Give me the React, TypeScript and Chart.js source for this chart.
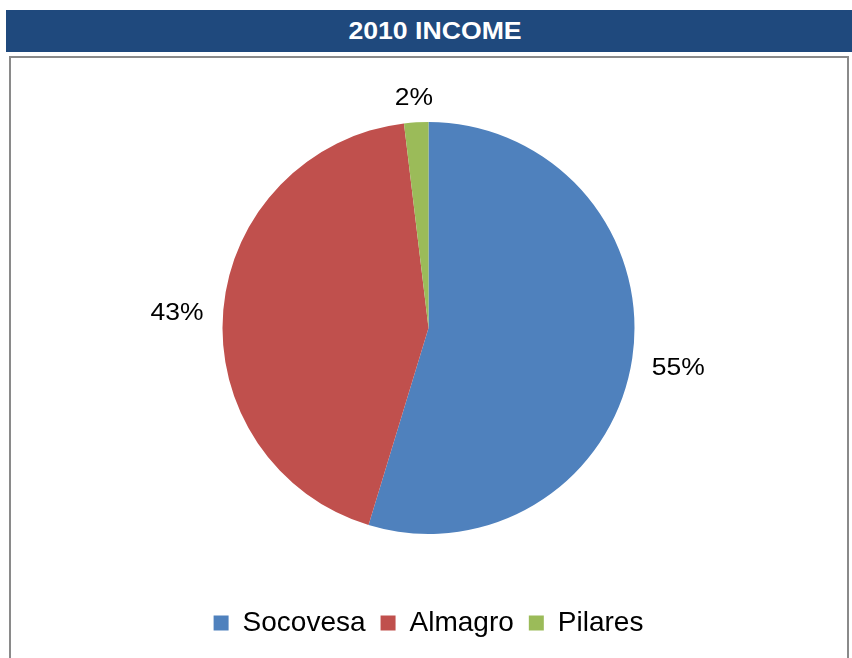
import React, { useEffect, useRef } from "react";
import { Chart, registerables } from "chart.js";

Chart.register(...registerables);

const titleText = "2010 INCOME";
const categories = ["Socovesa", "Almagro", "Pilares"];
const shares = [54.7, 43.4, 1.9];
const sliceColors = ["#4F81BD", "#C0504D", "#9BBB59"];

const FONT = "'Liberation Sans', Arial, Helvetica, sans-serif";

const outsideLabels = {
  id: "outsideLabels",
  afterDatasetsDraw(chart: any) {
    const ctx = chart.ctx;
    const meta = chart.getDatasetMeta(0);
    const data = chart.data.datasets[0].data as number[];
    const total = data.reduce((a, b) => a + b, 0);
    const fontSize = 23;
    const sx = 1.15;
    const off = 20;
    const halfH = 10;
    const baseShift = 6;
    ctx.save();
    ctx.font = `${fontSize}px ${FONT}`;
    ctx.fillStyle = "#000";
    ctx.textAlign = "center";
    ctx.textBaseline = "middle";
    meta.data.forEach((arc: any, i: number) => {
      const p = arc.getProps(["x", "y", "startAngle", "endAngle", "outerRadius"], true);
      const mid = (p.startAngle + p.endAngle) / 2;
      const dx = Math.cos(mid);
      const dy = Math.sin(mid);
      const txt = Math.round((data[i] / total) * 100) + "%";
      const w = ctx.measureText(txt).width * sx;
      const cx = p.x + dx * (p.outerRadius + off) + dx * (w / 2);
      const cy = p.y + dy * (p.outerRadius + off) + dy * halfH + baseShift;
      ctx.save();
      ctx.translate(cx, cy);
      ctx.scale(sx, 1);
      ctx.fillText(txt, 0, 0);
      ctx.restore();
    });
    ctx.restore();
  },
};

function PieChart() {
  const ref = useRef<HTMLCanvasElement | null>(null);
  useEffect(() => {
    if (!ref.current) return;
    const chart = new Chart(ref.current, {
      type: "pie",
      data: {
        labels: categories,
        datasets: [
          {
            data: shares,
            backgroundColor: sliceColors,
            borderWidth: 0,
            radius: 206,
          } as any,
        ],
      },
      options: {
        responsive: false,
        animation: false,
        layout: { padding: { top: 4, bottom: 11, left: 0, right: 1 } },
        plugins: {
          legend: {
            position: "bottom",
            labels: {
              boxWidth: 15,
              boxHeight: 15,
              padding: 15,
              color: "#000",
              font: { size: 28, family: FONT },
            },
          },
          tooltip: { enabled: false },
          title: { display: false },
        },
      },
      plugins: [outsideLabels],
    });
    return () => chart.destroy();
  }, []);
  return <canvas ref={ref} width={836} height={600} style={{ position: "absolute", left: 0, top: 0, width: 836, height: 600 }} />;
}

export default function App() {
  return (
    <div
      style={{
        position: "absolute",
        left: 0,
        top: 0,
        width: 852,
        height: 658,
        overflow: "hidden",
        background: "#fff",
        fontFamily: FONT,
      }}
    >
      <div
        style={{
          position: "absolute",
          left: 6,
          top: 10,
          width: 858,
          height: 42,
          background: "#1F497D",
          color: "#fff",
          fontWeight: "bold",
          fontSize: 24,
          lineHeight: "42px",
          textAlign: "center",
        }}
      >
        <span style={{ display: "inline-block", transform: "scaleX(1.11)" }}>{titleText}</span>
      </div>
      <div
        style={{
          position: "absolute",
          left: 9,
          top: 56,
          width: 836,
          height: 620,
          border: "2px solid #8a8a8a",
          background: "#fff",
        }}
      >
        <PieChart />
      </div>
    </div>
  );
}
